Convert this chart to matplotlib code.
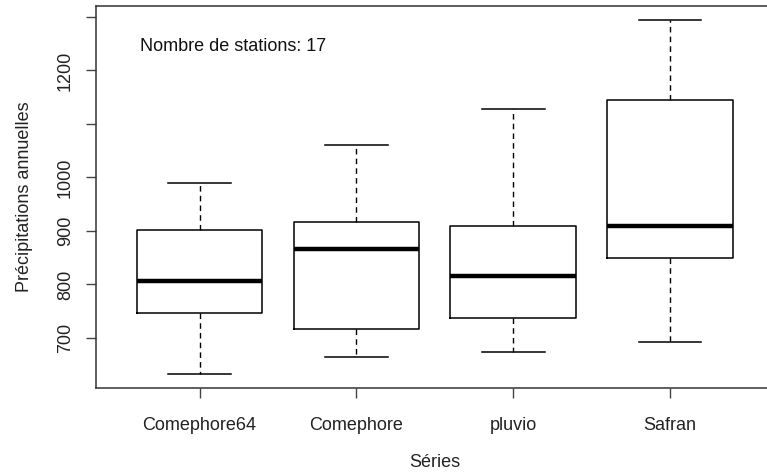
import matplotlib
matplotlib.use("Agg")
import matplotlib.pyplot as plt

# Annual precipitation summary per data series (five-number summaries)
series = ["Comephore64", "Comephore", "pluvio", "Safran"]
whisker_low = [633, 665, 674, 693]
q1 = [747, 717, 737, 850]
median = [807, 866, 816, 910]
q3 = [901, 917, 910, 1145]
whisker_high = [990, 1061, 1128, 1294]

yticks = [700, 800, 900, 1000, 1100, 1200, 1300]
ytick_labels = ["700", "800", "900", "1000", "", "1200", ""]
note = "Nombre de stations: 17"

plt.rcParams["font.family"] = ["Liberation Sans", "DejaVu Sans"]

fig = plt.figure(figsize=(7.67, 4.74), dpi=100)
ax = fig.add_axes([96 / 767, 1 - 388 / 474, (773.6 - 96) / 767, (388 - 6) / 474])

stats = [
    dict(label=s, whislo=lo, q1=a, med=m, q3=b, whishi=hi, fliers=[])
    for s, lo, a, m, b, hi in zip(series, whisker_low, q1, median, q3, whisker_high)
]
positions = list(range(1, len(series) + 1))
ax.bxp(
    stats,
    positions=positions,
    widths=0.8,
    capwidths=0.4,
    showfliers=False,
    boxprops=dict(color="black", linewidth=1.1),
    whiskerprops=dict(color="black", linewidth=1.0, linestyle=(0, (4, 3))),
    capprops=dict(color="black", linewidth=1.1),
    medianprops=dict(color="black", linewidth=3.2, solid_capstyle="butt"),
)

lo_all, hi_all = min(whisker_low), max(whisker_high)
pad = 0.04 * (hi_all - lo_all)
ax.set_ylim(lo_all - pad, hi_all + pad)
ax.set_xlim(0.5 - 0.16, len(series) + 0.5 + 0.16)

ax.set_yticks(yticks)
ax.set_yticklabels(ytick_labels, rotation=90, va="center", fontsize=13, color="#222222")
ax.set_xticks(positions)
ax.set_xticklabels(series, fontsize=13, color="#222222")
ax.tick_params(axis="both", direction="out", length=7, width=1.0, color="#444444")
ax.tick_params(axis="y", pad=9)
ax.tick_params(axis="x", pad=14)

for side in ["left", "top", "bottom", "right"]:
    ax.spines[side].set_linewidth(1.1)
    ax.spines[side].set_color("#333333")

ax.set_ylabel("Précipitations annuelles", fontsize=13, color="#222222", labelpad=17)
ax.set_xlabel("Séries", fontsize=13, color="#222222", labelpad=14)

ax.text(0.62, 1244, note, fontsize=13, color="#111111", ha="left", va="center")

fig.savefig("out.png", dpi=100)
